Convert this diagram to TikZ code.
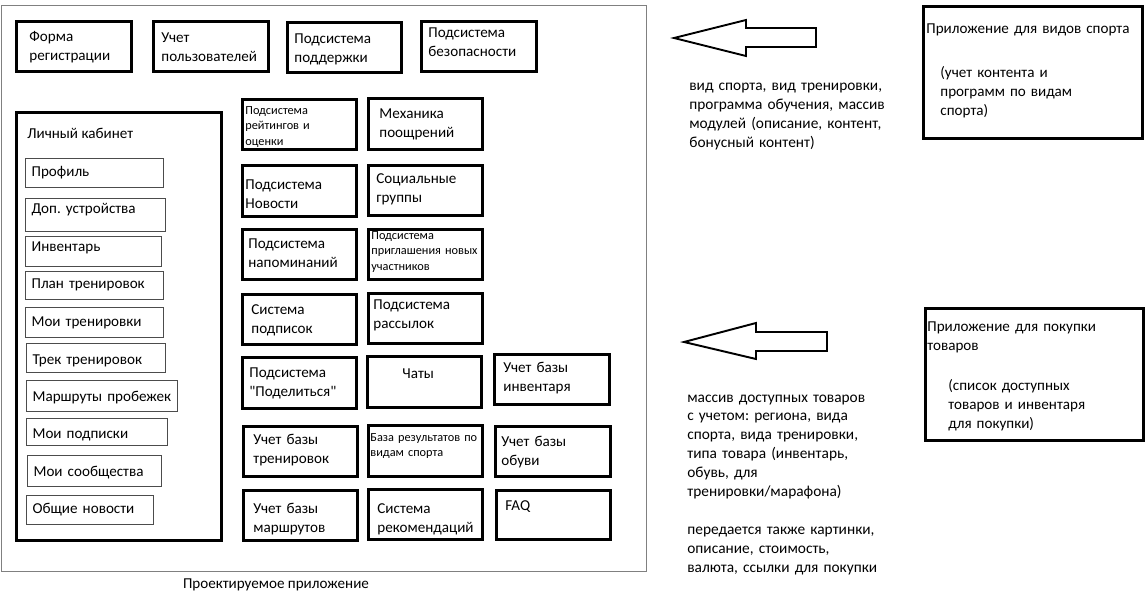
\documentclass[tikz,border=0pt]{standalone}
\usepackage{fontspec}
\setmainfont{Carlito}
\frenchspacing
\tikzset{
	every node/.style={font=\fontsize{8.6}{10.8}\selectfont},
	box/.style={draw, line width=1.6pt, anchor=north west, align=left, inner ysep=0pt, inner xsep=0.14cm},
	item/.style={draw=black!70, line width=0.7pt, anchor=north west, align=left, inner ysep=0pt, inner xsep=0.12cm},
	dims/.style n args={4}{inner xsep=#1, text width=#2, text height=#3, text depth=#4},
	small/.style={font=\fontsize{7}{8.8}\selectfont},
	txt/.style={anchor=base west, align=left, inner sep=0pt},
	note/.style={txt, text width=5cm, font=\fontsize{8.75}{10.8}\selectfont},
	bigarrow/.style={draw, line width=1.1pt, line join=miter},
}
\begin{document}
\begin{tikzpicture}[x=0.02cm, y=-0.02cm]
	\useasboundingbox (0,0) rectangle (1147,595);
	% projected app
	\node[draw=black!50, line width=0.6pt, anchor=north west, inner sep=0pt, minimum width=12.9cm, minimum height=11.32cm] (app) at (1,5) {};
	\node[anchor=base, inner sep=0pt] (appname) at (276,588) {Проектируемое приложение};
	\node[box, dims={0.26cm}{1.78cm}{0.40cm}{0.60cm}] (reg) at (15,20) {Форма\\регистрации};
	\node[box, dims={0.16cm}{1.98cm}{0.42cm}{0.58cm}] (users) at (152,20) {Учет\\пользователей};
	\node[box, dims={0.14cm}{2.00cm}{0.42cm}{0.58cm}] (support) at (286,21) {Подсистема\\поддержки};
	\node[box, dims={0.14cm}{2.02cm}{0.32cm}{0.68cm}] (security) at (420,20) {Подсистема\\безопасности};
	% personal cabinet
	\node[box, inner sep=0pt, minimum width=4.1cm, minimum height=8.56cm] (cab) at (15,111) {};
	\node[txt] (cabname) at (27,138) {Личный кабинет};
	\node[item, dims={0.12cm}{2.52cm}{0.36cm}{0.22cm}] (profile) at (25,158) {Профиль};
	\node[item, dims={0.12cm}{2.56cm}{0.30cm}{0.36cm}] (devices) at (25,198) {Доп. устройства};
	\node[item, dims={0.12cm}{2.48cm}{0.30cm}{0.30cm}] (gear) at (25,236) {Инвентарь};
	\node[item, dims={0.12cm}{2.52cm}{0.34cm}{0.22cm}] (plan) at (25,271) {План тренировок};
	\node[item, dims={0.12cm}{2.52cm}{0.38cm}{0.22cm}] (mytrain) at (25,307) {Мои тренировки};
	\node[item, dims={0.12cm}{2.54cm}{0.42cm}{0.16cm}] (track) at (26,343) {Трек тренировок};
	\node[item, dims={0.12cm}{2.78cm}{0.42cm}{0.20cm}] (runs) at (26,380) {Маршруты пробежек};
	\node[item, dims={0.12cm}{2.58cm}{0.40cm}{0.14cm}] (mysubs) at (26,418) {Мои подписки};
	\node[item, dims={0.12cm}{2.44cm}{0.42cm}{0.20cm}] (mycomm) at (27,455) {Мои сообщества};
	\node[item, dims={0.12cm}{2.30cm}{0.36cm}{0.22cm}] (allnews) at (26,495) {Общие новости};
	% subsystems
	\node[box, small, dims={0.06cm}{2.16cm}{0.30cm}{0.70cm}] (rating) at (241,98) {Подсистема\\рейтингов~и\\оценки};
	\node[box, dims={0.22cm}{1.84cm}{0.40cm}{0.62cm}] (reward) at (367,97) {Механика\\поощрений};
	\node[box, dims={0.06cm}{2.16cm}{0.48cm}{0.54cm}] (newsys) at (241,164) {Подсистема\\Новости};
	\node[box, dims={0.16cm}{1.96cm}{0.36cm}{0.64cm}] (groups) at (367,164) {Социальные\\группы};
	\node[box, dims={0.12cm}{2.04cm}{0.38cm}{0.62cm}] (remind) at (241,228) {Подсистема\\напоминаний};
	\node[box, small, dims={0.06cm}{2.16cm}{0.20cm}{0.80cm}] (invite) at (367,228) {Подсистема\\приглашения~новых\\участников};
	\node[box, dims={0.18cm}{1.92cm}{0.40cm}{0.60cm}] (subsys) at (241,293) {Система\\подписок};
	\node[box, dims={0.10cm}{2.08cm}{0.32cm}{0.68cm}] (mailing) at (367,292) {Подсистема\\рассылок};
	\node[box, dims={0.14cm}{2.00cm}{0.40cm}{0.62cm}] (share) at (241,356) {Подсистема\\\textquotedbl Поделиться\textquotedbl};
	\node[box, dims={0.70cm}{0.88cm}{0.44cm}{0.58cm}] (chats) at (366,355) {Чаты};
	\node[box, dims={0.18cm}{1.94cm}{0.36cm}{0.64cm}] (gearbase) at (493,353) {Учет базы\\инвентаря};
	\node[box, dims={0.20cm}{1.88cm}{0.36cm}{0.64cm}] (trainbase) at (242,425) {Учет базы\\тренировок};
	\node[box, small, dims={0.04cm}{2.20cm}{0.32cm}{0.70cm}] (results) at (367,424) {База~результатов~по\\видам~спорта};
	\node[box, dims={0.12cm}{2.06cm}{0.40cm}{0.60cm}] (shoes) at (494,425) {Учет базы\\обуви};
	\node[box, dims={0.20cm}{1.88cm}{0.46cm}{0.54cm}] (routebase) at (242,489) {Учет базы\\маршрутов};
	\node[box, dims={0.18cm}{1.92cm}{0.48cm}{0.52cm}] (recom) at (367,488) {Система\\рекомендаций};
	\node[box, dims={0.18cm}{1.92cm}{0.40cm}{0.58cm}] (faq) at (495,489) {FAQ};
	% sports app
	\draw[bigarrow] (674,38) -- (746,20) -- (746,28) -- (816,28) -- (816,47) -- (746,47) -- (746,56) -- cycle;
	\node[note] (sportdata) at (689,91) {вид спорта, вид тренировки,\\программа обучения, массив\\модулей (описание, контент,\\бонусный контент)};
	\node[box, dims={0.06cm}{4.26cm}{0.54cm}{2.10cm}] (sportapp) at (922,5) {Приложение для видов спорта\\[0.5cm]\hspace*{0.28cm}(учет контента и\\\hspace*{0.28cm}программ по видам\\\hspace*{0.28cm}спорта)};
	% shop app
	\draw[bigarrow] (684,342) -- (756,323) -- (756,332) -- (827,332) -- (827,351) -- (756,351) -- (756,359) -- cycle;
	\node[note] (shopdata) at (687,402) {массив доступных товаров\\с учетом: региона, вида\\спорта, вида тренировки,\\типа товара (инвентарь,\\обувь, для\\тренировки/марафона)\\[0.38cm]передается также картинки,\\описание, стоимость,\\валюта, ссылки для покупки};
	\node[box, dims={0.04cm}{4.28cm}{0.46cm}{2.18cm}] (shopapp) at (924,307) {Приложение для покупки\\товаров\\[0.42cm]\hspace*{0.42cm}(список доступных\\\hspace*{0.42cm}товаров и инвентаря\\\hspace*{0.42cm}для покупки)};
\end{tikzpicture}
\end{document}
